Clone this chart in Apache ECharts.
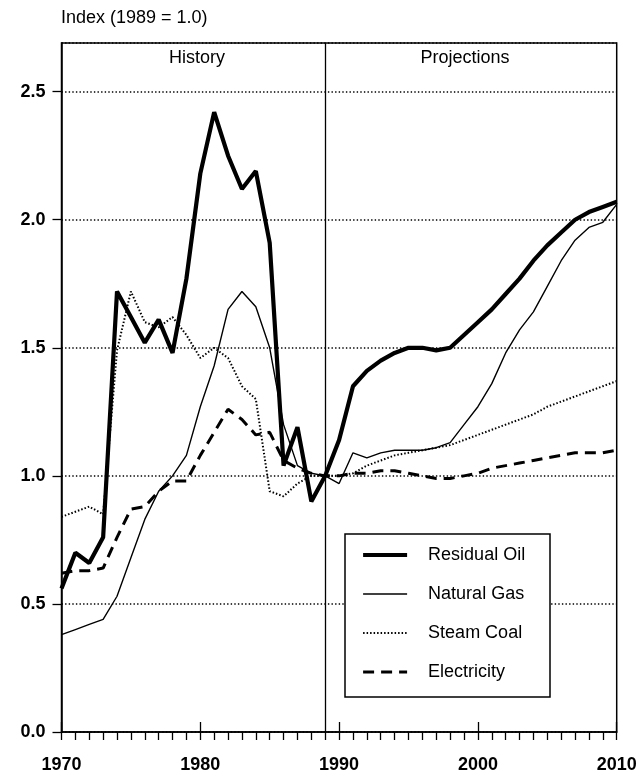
<!DOCTYPE html>
<html><head><meta charset="utf-8">
<script src="https://cdn.jsdelivr.net/npm/echarts@6/dist/echarts.min.js"></script>
<style>html,body{margin:0;padding:0;background:#fff}#c{width:642px;height:778px}</style>
</head><body><div id="c"></div>
<script>
const years = [1970,1971,1972,1973,1974,1975,1976,1977,1978,1979,1980,1981,1982,1983,1984,1985,1986,1987,1988,1989,
  1990,1991,1992,1993,1994,1995,1996,1997,1998,1999,2000,2001,2002,2003,2004,2005,2006,2007,2008,2009,2010];
const residualOil = [0.56,0.70,0.66,0.76,1.72,1.62,1.52,1.61,1.48,1.77,2.18,2.42,2.25,2.12,2.19,1.91,1.04,1.19,0.90,1.00,
  1.14,1.35,1.41,1.45,1.48,1.50,1.50,1.49,1.50,1.55,1.60,1.65,1.71,1.77,1.84,1.90,1.95,2.00,2.03,2.05,2.07];
const naturalGas = [0.38,0.40,0.42,0.44,0.53,0.68,0.83,0.94,1.00,1.08,1.27,1.43,1.65,1.72,1.66,1.50,1.20,1.04,1.01,1.00,
  0.97,1.09,1.07,1.09,1.10,1.10,1.10,1.11,1.13,1.20,1.27,1.36,1.48,1.57,1.64,1.74,1.84,1.92,1.97,1.99,2.06];
const steamCoal = [0.84,0.86,0.88,0.85,1.49,1.72,1.60,1.58,1.62,1.55,1.46,1.50,1.46,1.35,1.30,0.94,0.92,0.97,1.00,1.00,
  1.00,1.01,1.04,1.06,1.08,1.09,1.10,1.11,1.12,1.14,1.16,1.18,1.20,1.22,1.24,1.27,1.29,1.31,1.33,1.35,1.37];
const electricity = [0.62,0.63,0.63,0.64,0.76,0.87,0.88,0.94,0.98,0.98,1.08,1.17,1.26,1.22,1.16,1.17,1.06,1.03,1.01,1.00,
  1.00,1.01,1.01,1.02,1.02,1.01,1.00,0.99,0.99,1.00,1.01,1.03,1.04,1.05,1.06,1.07,1.08,1.09,1.09,1.09,1.10];
const seriesNames = ['Residual Oil','Natural Gas','Steam Coal','Electricity'];
const yTicks = [0.0,0.5,1.0,1.5,2.0,2.5];
const xTicks = [1970,1980,1990,2000,2010];
const baseYear = 1989;
const yLabel = 'Index (1989 = 1.0)';
const panelLabels = ['History','Projections'];

const FONT = 'Liberation Sans, Arial, Helvetica, sans-serif';
const pair = arr => years.map((y,i)=>[y,arr[i]]);
const chart = echarts.init(document.getElementById('c'), null, {renderer:'canvas'});
const styles = [
  {width:4.2, type:'solid'},
  {width:1.4, type:'solid'},
  {width:2, type:[1.5,2]},
  {width:3, type:[11,7]}
];
const datas = [residualOil, naturalGas, steamCoal, electricity];
const series = seriesNames.map((n,i)=>({
  name:n, type:'line', data:pair(datas[i]), symbol:'none', smooth:false,
  lineStyle:{color:'#000', width:styles[i].width, type:styles[i].type},
  itemStyle:{color:'#000'}, z: 5 - i, animation:false
}));
series[0].markLine = {
  silent:true, symbol:'none', animation:false,
  lineStyle:{color:'#000', width:1.3, type:'solid'},
  label:{show:false},
  data:[{xAxis: baseYear}]
};
chart.setOption({
  animation:false,
  backgroundColor:'#fff',
  grid:{left:61.5, right:25.3, top:43, bottom:46, show:true, borderColor:'#000', borderWidth:1.5, backgroundColor:'transparent'},
  xAxis:[{
    type:'value', min:1970, max:2010, interval:10,
    axisLine:{show:true, lineStyle:{color:'#000', width:1.5}},
    axisTick:{show:true, length:8, lineStyle:{color:'#000', width:1.3}},
    minorTick:{show:true, splitNumber:10, length:8, lineStyle:{color:'#000', width:1.3}},
    splitLine:{show:false},
    axisLabel:{margin:24, fontFamily:FONT, fontSize:18, fontWeight:'bold', color:'#000',
      formatter: v => xTicks.includes(v) ? String(v) : ''}
  },{
    type:'value', min:1970, max:2010, interval:10, position:'bottom',
    axisLine:{show:false},
    axisTick:{show:true, inside:true, length:10, lineStyle:{color:'#000', width:1.3}},
    axisLabel:{show:false}, splitLine:{show:false}
  }],
  yAxis:{
    type:'value', min:0, max:2.69, interval:0.5,
    axisLine:{show:true, lineStyle:{color:'#000', width:1.5}},
    axisTick:{show:true, length:9, lineStyle:{color:'#000', width:1.3}},
    splitLine:{show:true, lineStyle:{color:'#000', width:1.6, type:[1.4,2.2]}},
    axisLabel:{margin:16, fontFamily:FONT, fontSize:18, fontWeight:'bold', color:'#000', showMaxLabel:false,
      formatter: v => yTicks.some(t=>Math.abs(t-v)<1e-6) ? v.toFixed(1) : ''}
  },
  legend:{
    orient:'vertical', left:361, top:545, itemWidth:44, itemHeight:14, itemGap:19,
    padding:0, z:10,
    itemStyle:{opacity:0, borderWidth:0},
    textStyle:{fontFamily:FONT, fontSize:18, color:'#000', lineHeight:20, padding:[0,0,0,16]},
    data: seriesNames.map((n,i)=>({name:n, lineStyle:{width:styles[i].width, type:styles[i].type, color:'#000'}}))
  },
  graphic:[
    {type:'rect', z:8, shape:{x:345, y:534, width:205, height:163},
     style:{fill:'#fff', stroke:'#000', lineWidth:1.5}},
    {type:'text', left:61, top:9, z:10,
     style:{text:yLabel, font:'18px '+FONT, fill:'#000'}},
    {type:'text', x:197, y:58, z:10,
     style:{text:panelLabels[0], font:'18px '+FONT, fill:'#000', align:'center', verticalAlign:'middle'}},
    {type:'text', x:465, y:58, z:10,
     style:{text:panelLabels[1], font:'18px '+FONT, fill:'#000', align:'center', verticalAlign:'middle'}}
  ],
  series: series
});
</script></body></html>
